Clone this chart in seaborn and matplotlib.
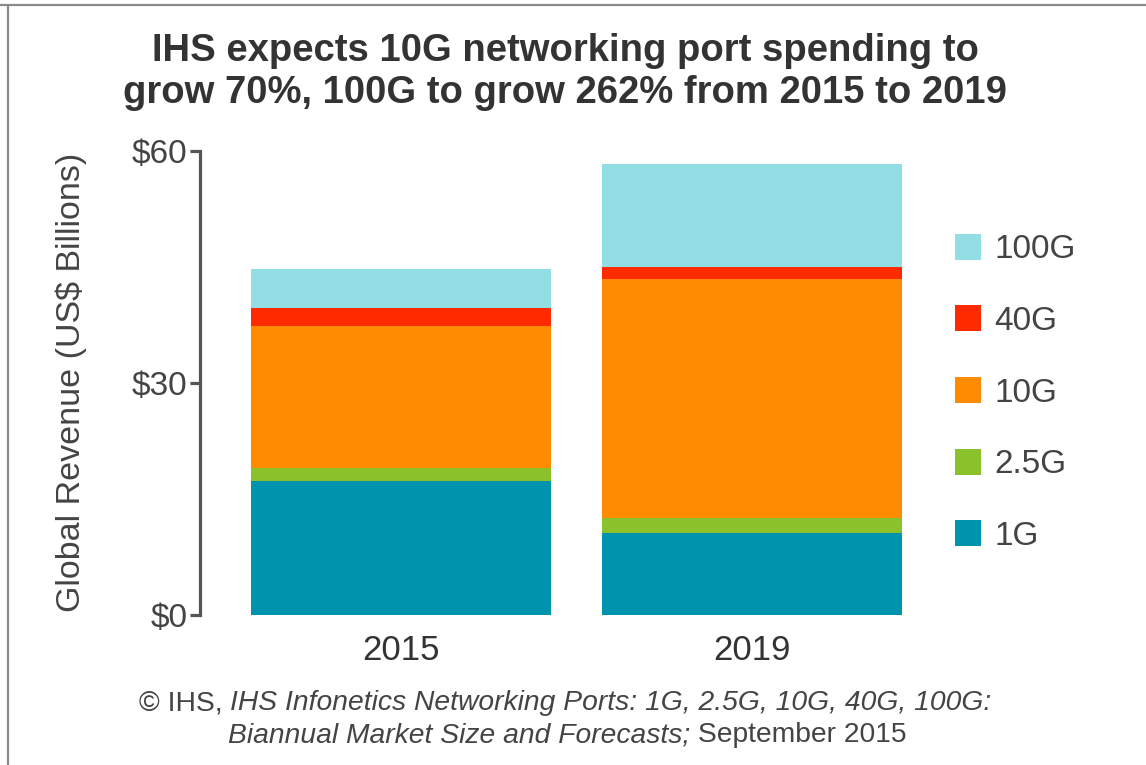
import matplotlib
matplotlib.use("Agg")
import matplotlib.pyplot as plt
import seaborn as sns
import pandas as pd
import numpy as np
from matplotlib.lines import Line2D

# ---- data ----
years = ["2015", "2019"]
series_names = ["1G", "2.5G", "10G", "40G", "100G"]
v_1g = [17.3, 10.6]
v_2_5g = [1.7, 1.9]
v_10g = [18.3, 30.9]
v_40g = [2.3, 1.6]
v_100g = [5.1, 13.3]
colors = ["#0093AE", "#8BC22C", "#FF8C00", "#FF2A00", "#93DEE5"]
yticks = [0, 30, 60]
ytick_labels = ["$0", "$30", "$60"]

sns.set_theme(style="white")
plt.rcParams['font.family'] = ['Liberation Sans', 'DejaVu Sans']

W, H = 1146, 765
fig = plt.figure(figsize=(W / 100, H / 100), dpi=100)
fig.patch.set_facecolor("white")

ax_left, ax_right = 200, 930
ax_top, ax_bot = 150.5, 615
ax = fig.add_axes([ax_left / W, 1 - ax_bot / H, (ax_right - ax_left) / W, (ax_bot - ax_top) / H])

values = [v_1g, v_2_5g, v_10g, v_40g, v_100g]
cum = np.cumsum(np.array(values), axis=0)
# draw from top of stack down so lower layers cover upper ones
for i in range(len(series_names) - 1, -1, -1):
    d = pd.DataFrame({"year": years, "value": cum[i]})
    sns.barplot(data=d, x="year", y="value", color=colors[i], width=0.852,
                saturation=1, ax=ax, linewidth=0, errorbar=None)

center0, pitch = 401, 351
ax.set_xlim((ax_left - center0) / pitch, (ax_right - center0) / pitch)
ax.set_ylim(0, 60)
ax.set_yticks(yticks)
ax.set_yticklabels(ytick_labels)
ax.set_xlabel("")
ax.set_ylabel("Global Revenue (US$ Billions)", fontsize=24.5, color="#444444", labelpad=32)

for s in ["top", "right", "bottom"]:
    ax.spines[s].set_visible(False)
ax.spines["left"].set_color("#555555")
ax.spines["left"].set_linewidth(2.3)
ax.spines["left"].set_bounds(0, 60)
ax.tick_params(axis="y", direction="out", length=7, width=2.3, color="#555555",
               labelsize=24, labelcolor="#444444", pad=2, left=True)
ax.tick_params(axis="x", length=0, labelsize=25, labelcolor="#333333", pad=14)
ax.grid(False)

# legend
handles = [Line2D([0], [0], marker="s", linestyle="none", markersize=19,
                  markerfacecolor=colors[i], markeredgewidth=0) for i in range(len(series_names) - 1, -1, -1)]
labels = [series_names[i] for i in range(len(series_names) - 1, -1, -1)]
leg = fig.legend(handles, labels, loc="upper left", bbox_to_anchor=(938 / W, 1 - 221 / H),
                 frameon=False, fontsize=24, labelspacing=1.22, handletextpad=0.3,
                 handlelength=1.0, borderaxespad=0)
for t in leg.get_texts():
    t.set_color("#444444")

# title
fig.text(565 / W, 1 - 51 / H, "IHS expects 10G networking port spending to",
         ha="center", va="center", fontsize=27.5, fontweight="bold", color="#333333")
fig.text(565 / W, 1 - 93 / H, "grow 70%, 100G to grow 262% from 2015 to 2019",
         ha="center", va="center", fontsize=27.5, fontweight="bold", color="#333333")

# footer with mixed styles
renderer = fig.canvas.get_renderer()
def mixed_line(parts, xc, yc, size):
    texts = []
    for txt, style in parts:
        t = fig.text(0, 1 - yc / H, txt, ha="left", va="center", fontsize=size,
                     style=style, color="#444444")
        texts.append(t)
    widths = [t.get_window_extent(renderer).width for t in texts]
    total = sum(widths)
    x = xc - total / 2
    for t, w in zip(texts, widths):
        t.set_x(x / W)
        x += w

mixed_line([("\u00a9 IHS, ", "normal"),
            ("IHS Infonetics Networking Ports: 1G, 2.5G, 10G, 40G, 100G:", "italic")],
           565, 703, 20.3)
mixed_line([("Biannual Market Size and Forecasts;", "italic"),
            (" September 2015", "normal")], 567, 735, 20.3)

# figure border (top and left)
fig.add_artist(Line2D([0, 1], [1 - 4.5 / H, 1 - 4.5 / H], transform=fig.transFigure,
                      color="#8a8a8a", linewidth=1.6))
fig.add_artist(Line2D([7.5 / W, 7.5 / W], [0, 1 - 4.5 / H], transform=fig.transFigure,
                      color="#8a8a8a", linewidth=1.6))

fig.savefig("out.png", dpi=100, facecolor="white")
